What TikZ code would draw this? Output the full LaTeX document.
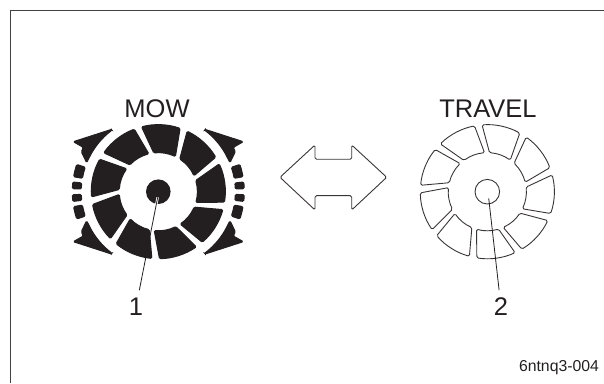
\documentclass[tikz,border=0pt]{standalone}
\usepackage{fontspec}
\usetikzlibrary{calc}
\setmainfont{Liberation Sans}
\definecolor{inkdark}{HTML}{231F20}
\tikzset{
    framerule/.style={draw=inkdark!85,line width=1.7pt},
    solidseg/.style={fill=inkdark,draw=inkdark,line width=1pt,rounded corners=1.2pt},
    hollowseg/.style={draw=inkdark!90,line width=0.9pt,rounded corners=1.5pt},
    leader/.style={draw=inkdark,line width=0.8pt},
    modelabel/.style={font=\fontsize{25.5}{26}\selectfont,text=inkdark,inner sep=0pt},
    numlabel/.style={font=\fontsize{25.5}{26}\selectfont,text=inkdark,inner sep=0pt,outer sep=8pt},
}
% one wheel segment, before rotating
\newcommand{\wheelseg}{(71:67) arc[start angle=71,end angle=104.5,radius=67] -- (96.7:39) arc[start angle=96.7,end angle=64,radius=39] -- cycle}
\newcommand{\sideblock}[2]{(#1:86) arc[start angle=#1,end angle=#2,radius=86] -- (#2:77) arc[start angle=#2,end angle=#1,radius=77] -- cycle}
\begin{document}
\begin{tikzpicture}[x=1pt,y=1pt]
    \useasboundingbox (0,0) rectangle (604,383);
    \draw[framerule] (10.5,0) -- (10.5,372.5) -- (604,372.5);
    % MOW wheel
    \begin{scope}[shift={(158.3,191.3)}]
        \foreach \k in {0,...,8}
            \fill[solidseg,rotate=40*\k] \wheelseg;
        \fill[inkdark] (0,0) circle (12.3);
        \foreach \sx/\sy in {1/1,-1/1,1/-1,-1/-1} {
            \begin{scope}[xscale=\sx,yscale=\sy]
                \fill[solidseg] (53:78) -- (85,50) -- (75,44.3) -- (77,40) -- (71.7,29) -- (26:77) arc[start angle=26,end angle=53,radius=77] -- cycle;
                \fill[solidseg] \sideblock{10}{18.5};
                \fill[solidseg] \sideblock{2}{6.5};
            \end{scope}
        }
        \coordinate (mowhub) at (-0.6,-5.6);
    \end{scope}
    % TRAVEL wheel
    \begin{scope}[shift={(487.3,191.3)}]
        \foreach \k in {0,...,8}
            \draw[hollowseg,rotate=40*\k-10] \wheelseg;
        \draw[draw=inkdark!90,line width=0.9pt] (0,0) circle (12.3);
        \coordinate (travelhub) at (1.4,-6.6);
    \end{scope}
    % double arrow between the two
    \draw[hollowseg] (280,205.7) -- (315,238) -- (315,223.7) -- (351.7,223.7) -- (351.7,238) -- (386.7,205.7) -- (351.7,173) -- (351.7,187.3) -- (315,187.3) -- (315,173) -- cycle;
    \node[modelabel] (mowlabel) at (157,274.5) {MOW};
    \node[modelabel] (travellabel) at (488,274.5) {TRAVEL};
    \node[numlabel] (labelone) at (136,76) {1};
    \node[numlabel] (labeltwo) at (501,76) {2};
    \node[font=\fontsize{15.8}{16}\selectfont,text=inkdark,inner sep=0pt] (figcode) at (559,15) {6ntnq3-004};
    \draw[white,line width=2.4pt] (mowhub) -- ($(mowhub)!0.12!(labelone)$);
    \draw[leader] (mowhub) -- (labelone);
    \draw[leader] (travelhub) -- (labeltwo);
\end{tikzpicture}
\end{document}
